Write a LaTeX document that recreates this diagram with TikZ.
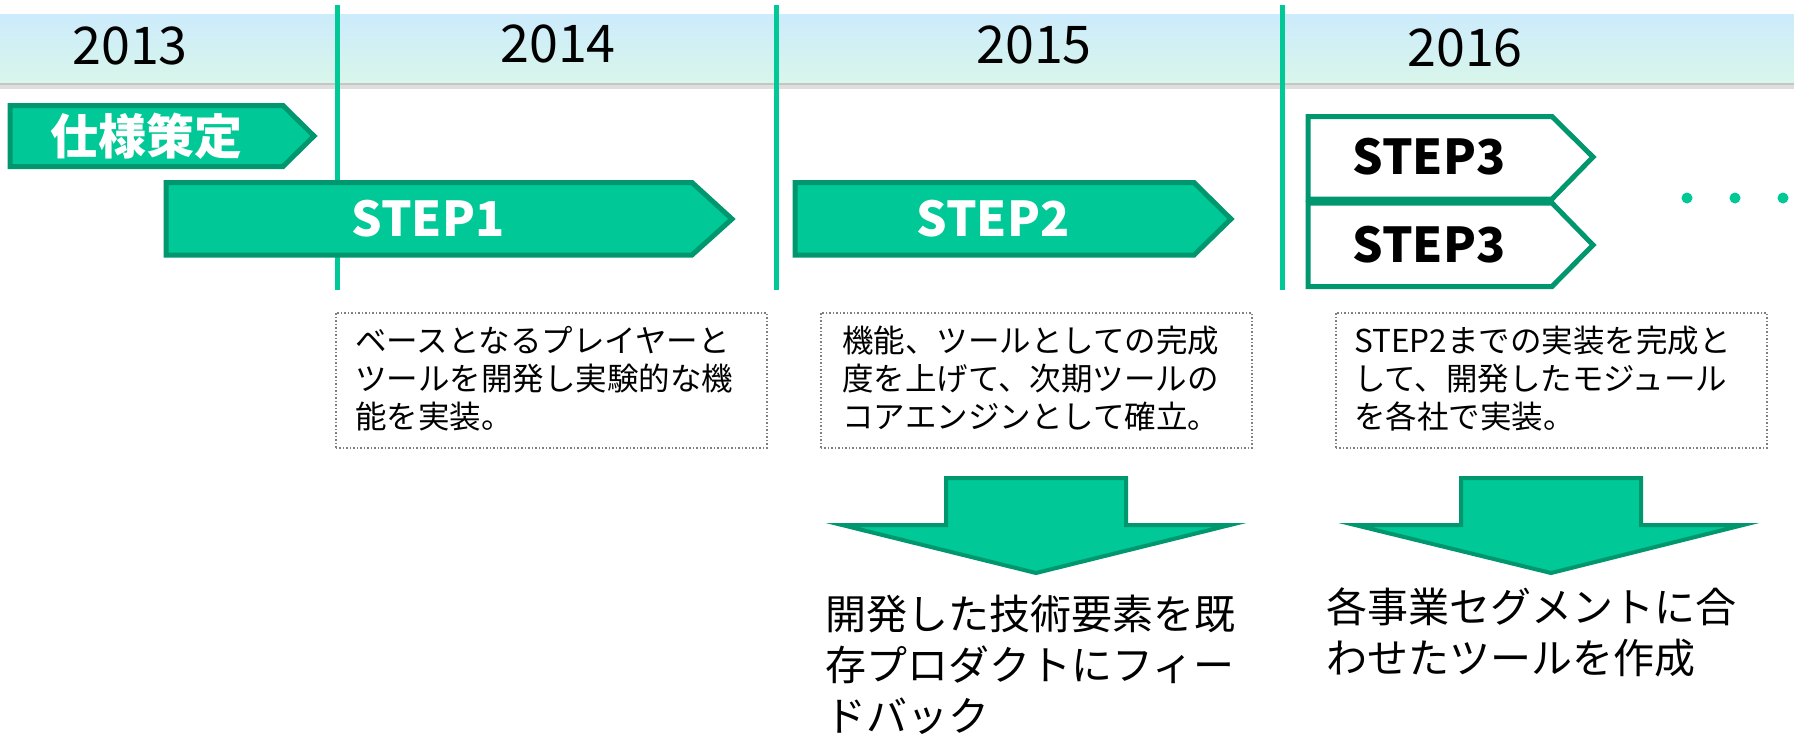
\documentclass[tikz,border=0pt]{standalone}
\usepackage{fontspec}
\setmainfont{Noto Sans CJK JP}
\definecolor{gfill}{HTML}{00C896}
\definecolor{gline}{HTML}{00976F}
\definecolor{bandtop}{HTML}{CCEBFC}
\definecolor{bandbot}{HTML}{D8F6EA}
\tikzset{
  year/.style={inner sep=0, font=\fontsize{52}{60}\selectfont, text=black},
  vline/.style={draw=gfill, line width=5pt},
  stepgreen/.style={fill=gfill, draw=gline, line width=5pt, line join=miter},
  stepwhite/.style={fill=white, draw=gline, line width=5pt, line join=miter},
  steplabel/.style={inner sep=0, font=\fontsize{48}{56}\bfseries\selectfont},
  notebox/.style={draw=black!50, dotted, line width=1.5pt, inner sep=0, rectangle},
  notetext/.style={align=left, inner sep=0, font=\fontsize{31.5}{38}\selectfont},
  bottomtext/.style={align=left, inner sep=0, font=\fontsize{41}{51}\selectfont},
  dotc/.style={circle, fill=gfill, minimum size=11pt, inner sep=0},
  arrowshape/.style={fill=gfill, draw=gline, line width=4pt, line join=miter}
}
\begin{document}
\begin{tikzpicture}[x=1pt,y=-1pt]
\useasboundingbox (0,0) rectangle (1794,736);
\fill[white] (0,0) rectangle (1794,736);
% band
\fill[black!45, opacity=0.5] (0,82) rectangle (1794,85);
\fill[black!25, opacity=0.5] (0,85) rectangle (1794,89);
\shade[top color=bandtop, bottom color=bandbot] (0,14) rectangle (1794,82);
% years
\node[year] (y13) at (130,46) {2013};
\node[year] (y14) at (558,44) {2014};
\node[year] (y15) at (1034,45) {2015};
\node[year] (y16) at (1465,48) {2016};
% vertical lines
\coordinate (v1t) at (337,5); \coordinate (v1b) at (337,290);
\coordinate (v2t) at (776,5); \coordinate (v2b) at (776,290);
\coordinate (v3t) at (1282,5); \coordinate (v3b) at (1282,290);
\draw[vline] (v1t) -- (v1b);
\draw[vline] (v2t) -- (v2b);
\draw[vline] (v3t) -- (v3b);
% step shapes
\draw[stepgreen] (10,105.5) -- (283,105.5) -- (314,136) -- (283,166.5) -- (10,166.5) -- cycle;
\node[steplabel, text=white] (s0) at (146,136) {仕様策定};
\draw[stepgreen] (166,182.5) -- (692,182.5) -- (732,219) -- (692,255) -- (166,255) -- cycle;
\node[steplabel, text=white] (s1) at (428,219) {STEP1};
\draw[stepgreen] (795,182.5) -- (1194,182.5) -- (1231,219) -- (1194,255) -- (795,255) -- cycle;
\node[steplabel, text=white] (s2) at (993,219) {STEP2};
\draw[stepwhite] (1308,116.5) -- (1552,116.5) -- (1593,157) -- (1552,199) -- (1308,199) -- cycle;
\node[steplabel, text=black] (s3a) at (1429,157) {STEP3};
\draw[stepwhite] (1308,203) -- (1552,203) -- (1593,245) -- (1552,286.5) -- (1308,286.5) -- cycle;
\node[steplabel, text=black] (s3b) at (1429,245) {STEP3};
% dots
\node[dotc] (d1) at (1687,198) {};
\node[dotc] (d2) at (1735,198) {};
\node[dotc] (d3) at (1783,198) {};
% note boxes
\node[notebox, anchor=north west, minimum width=431pt, minimum height=135pt] (nb1) at (335,312) {};
\node[notetext, anchor=north west] (nt1) at (355,326) {ベースとなるプレイヤーと\\ツールを開発し実験的な機\\能を実装。};
\node[notebox, anchor=north west, minimum width=431pt, minimum height=135pt] (nb2) at (820,312) {};
\node[notetext, anchor=north west] (nt2) at (842,326) {機能、ツールとしての完成\\度を上げて、次期ツールの\\コアエンジンとして確立。};
\node[notebox, anchor=north west, minimum width=431pt, minimum height=135pt] (nb3) at (1335,312) {};
\node[notetext, anchor=north west] (nt3) at (1354,326) {STEP2までの実装を完成と\\して、開発したモジュール\\を各社で実装。};
% down arrows
\draw[arrowshape] (946,478) -- (1126,478) -- (1126,525) -- (1230,525) -- (1036,573) -- (842,525) -- (946,525) -- cycle;
\draw[arrowshape] (1461,478) -- (1641,478) -- (1641,525) -- (1743,525) -- (1551,573) -- (1355,525) -- (1461,525) -- cycle;
% bottom texts
\node[bottomtext, anchor=north west] (bt1) at (825,595) {開発した技術要素を既\\存プロダクトにフィー\\ドバック};
\node[bottomtext, anchor=north west] (bt2) at (1326,588) {各事業セグメントに合\\わせたツールを作成};
\end{tikzpicture}
\end{document}
